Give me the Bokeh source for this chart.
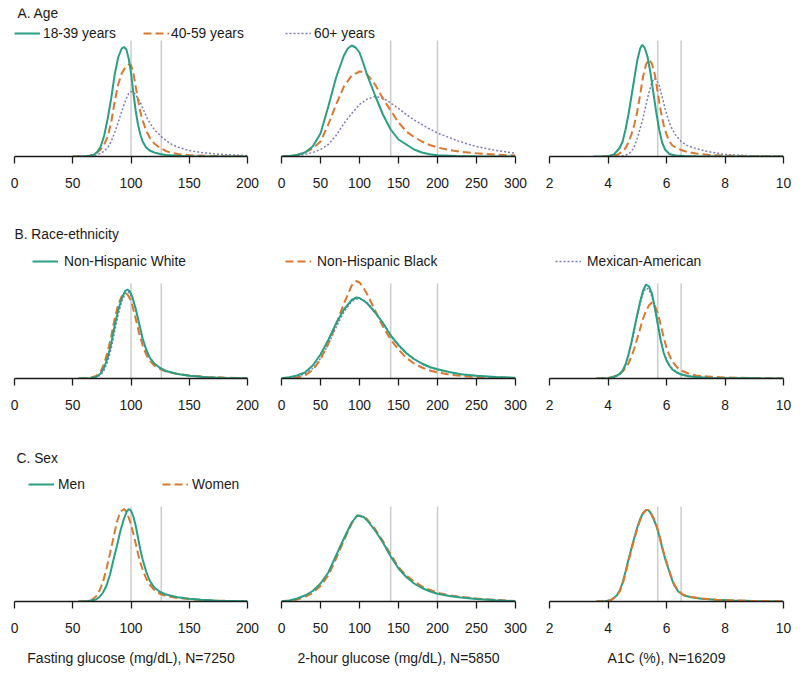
from bokeh.plotting import figure
from bokeh.layouts import column, row
from bokeh.models import Range1d, FixedTicker, Legend, LegendItem, Label
from bokeh.embed import file_html
from bokeh.resources import INLINE

# ---------------- data (relative density) ----------------
# Row A: Age
FG_1839_X = [50, 60, 65, 68, 71, 74, 77, 80, 83, 86, 89, 92, 94, 96, 98, 100, 102, 104, 106, 108, 110, 113, 116, 120, 125, 130, 140, 150, 170, 200]
FG_1839_Y = [0, 0.3, 0.8, 1.8, 4.5, 10, 21, 38, 58, 82, 99, 108, 109.5, 107, 98, 84, 64, 46, 32, 22, 15, 9, 6, 4, 2.5, 1.5, 0.7, 0.3, 0.1, 0]
FG_4059_X = [50, 60, 65, 70, 74, 77, 80, 83, 86, 89, 92, 95, 98, 100, 102, 104, 106, 108, 110, 113, 116, 120, 125, 130, 135, 140, 150, 165, 180, 200]
FG_4059_Y = [0, 0.3, 1, 3, 7, 12, 20, 34, 55, 72, 83, 89, 92, 91.5, 84, 70, 57, 45, 36, 26, 19, 13, 8.5, 5.5, 3.5, 2.5, 1.3, 0.6, 0.3, 0.1]
FG_60_X = [55, 65, 70, 74, 77, 80, 83, 86, 89, 92, 95, 98, 100, 102, 105, 108, 111, 114, 117, 120, 125, 130, 135, 140, 150, 160, 175, 200]
FG_60_Y = [0, 0.5, 1.5, 3, 5.5, 9, 15, 24, 34, 45, 55, 63, 65, 64.5, 60, 54, 46, 38, 32, 27, 21, 16, 12, 9.5, 6, 4, 2.3, 0.8]

H2_1839_X = [0, 10, 20, 30, 40, 50, 60, 70, 80, 85, 90, 95, 100, 105, 110, 120, 130, 140, 150, 160, 170, 180, 190, 200, 225, 250, 300]
H2_1839_Y = [0, 0.5, 1.5, 4, 10, 23, 50, 79, 101, 108, 111, 109, 104, 93, 81, 61, 42, 27, 17, 12, 7, 4, 2.2, 1.3, 0.5, 0.2, 0]
H2_4059_X = [0, 10, 20, 30, 40, 50, 60, 70, 80, 90, 100, 105, 110, 120, 130, 140, 150, 160, 170, 180, 190, 200, 215, 230, 250, 275, 300]
H2_4059_Y = [0, 0.4, 1.5, 4, 8, 15, 32, 52, 70, 81, 85, 84.5, 82, 72, 58, 46, 34, 25, 19.5, 15, 11.5, 9, 6.5, 4.6, 3.2, 1.8, 1]
H2_60_X = [0, 20, 30, 40, 50, 60, 70, 80, 90, 100, 110, 120, 130, 140, 150, 160, 170, 180, 190, 200, 215, 230, 250, 275, 300]
H2_60_Y = [0, 0.8, 2, 4, 7, 12, 21, 33, 43, 52, 57.5, 60, 58.5, 53.5, 48, 42, 36.5, 32, 27.5, 23.5, 19, 14.5, 10, 6, 3.3]

A1C_1839_X = [3.5, 4.0, 4.2, 4.4, 4.5, 4.6, 4.7, 4.8, 4.9, 5.0, 5.1, 5.17, 5.25, 5.35, 5.45, 5.55, 5.65, 5.75, 5.85, 5.95, 6.1, 6.3, 6.6, 7.0, 10.0]
A1C_1839_Y = [0, 0.3, 2, 8.5, 15, 27, 42, 60, 78, 96, 108, 111.7, 109, 100, 84, 64, 44, 27, 14, 7, 2.5, 1, 0.4, 0.2, 0]
A1C_4059_X = [3.8, 4.1, 4.3, 4.5, 4.6, 4.7, 4.8, 4.9, 5.0, 5.1, 5.2, 5.3, 5.4, 5.5, 5.6, 5.7, 5.8, 5.9, 6.0, 6.1, 6.2, 6.35, 6.5, 6.75, 7.0, 7.5, 8.0, 9.0, 10.0]
A1C_4059_Y = [0, 0.5, 1.5, 5, 8.5, 14, 22, 32, 45, 62, 80, 92, 97, 93, 82, 64, 46, 32, 22, 15, 11, 8.5, 6.5, 4.3, 3, 1.5, 0.8, 0.3, 0.1]
A1C_60_X = [4.2, 4.5, 4.7, 4.8, 4.9, 5.0, 5.1, 5.2, 5.3, 5.4, 5.5, 5.57, 5.65, 5.75, 5.85, 5.95, 6.05, 6.15, 6.3, 6.5, 6.7, 7.0, 7.4, 8.0, 9.0, 10.0]
A1C_60_Y = [0, 0.5, 2.5, 5, 10, 18, 28, 39, 52, 64, 74, 78, 77, 71, 60, 48, 38, 30, 22, 15, 11, 8, 5, 2, 0.6, 0.2]

# Row B: Race-ethnicity
FG_RACE_X = [55, 65, 70, 74, 77, 80, 83, 86, 89, 92, 95, 97, 99, 101, 104, 107, 110, 113, 116, 120, 125, 130, 140, 150, 165, 180, 200]
FG_NHW_Y = [0, 0.3, 1.5, 5, 11, 21, 35, 53, 68, 80, 87.5, 89, 87, 82, 70, 55, 40, 29, 21, 15, 10.5, 7.5, 4.5, 2.8, 1.2, 0.5, 0.2]
FG_NHB_Y = [0, 0.6, 2.5, 7, 15, 27, 42, 60, 74, 82, 85, 84, 80, 74, 60, 45, 33, 24, 18, 13, 9.5, 7, 4.5, 3, 1.6, 0.9, 0.4]
FG_MA_Y = [0, 0.2, 1, 3.5, 8.5, 17, 30, 47, 64, 77, 85, 87, 85.5, 80, 68, 53, 39, 28.5, 21, 15, 10.5, 7.5, 4.5, 2.8, 1.3, 0.6, 0.2]

H2_RACE_X = [0, 10, 20, 30, 40, 50, 60, 70, 80, 90, 96, 100, 105, 110, 120, 130, 140, 150, 160, 170, 180, 190, 200, 215, 230, 250, 275, 300]
H2_NHW_Y = [0.3, 1.2, 3, 6, 13, 24, 38.5, 55, 69, 78.5, 81, 80.5, 78, 75, 66, 55.5, 43, 33.5, 25.5, 19.5, 15, 11.5, 9.2, 6.5, 4.3, 2.7, 1.4, 0.7]
H2_NHB_Y = [0, 0.3, 1, 3, 8.5, 19, 35, 54, 75, 93, 97.5, 96, 91, 84, 68, 52, 39, 29, 20.5, 15, 11, 8, 6, 4, 2.6, 1.5, 0.8, 0.4]
H2_MA_Y = [0.2, 0.8, 2.2, 4.5, 10, 20, 34, 51, 66.5, 77, 79.5, 80, 78.5, 75.5, 67, 56, 43.5, 33, 25, 19, 14.5, 11, 8.8, 6.2, 4.2, 2.6, 1.4, 0.7]

A1C_RACE_X = [3.6, 4.0, 4.2, 4.4, 4.5, 4.6, 4.7, 4.8, 4.9, 5.0, 5.1, 5.2, 5.3, 5.4, 5.5, 5.6, 5.7, 5.8, 5.9, 6.0, 6.1, 6.2, 6.35, 6.5, 6.75, 7.0, 7.5, 8.0, 9.0, 10.0]
A1C_NHW_Y = [0, 0.3, 1.5, 4.5, 8, 14, 24, 36, 50, 64, 77, 88, 94, 92, 85, 71, 55, 38.5, 26, 18, 13, 9, 6, 4, 2.3, 1.4, 0.6, 0.35, 0.15, 0]
A1C_NHB_Y = [0, 0.5, 2, 4.5, 7, 10.5, 15, 22, 30, 40, 50, 60, 67.5, 73, 76, 73, 65.5, 54, 41.5, 31, 23, 17, 11.5, 8, 5, 3, 1.8, 1, 0.4, 0.1]
A1C_MA_Y = [0, 0.3, 1.2, 4, 7, 12.5, 22, 34, 48, 62, 75, 85, 90.5, 89, 82, 70, 54, 39, 27, 19, 13.5, 10, 6.5, 4.5, 2.7, 1.7, 0.7, 0.35, 0.15, 0]

# Row C: Sex
FG_SEX_X = [55, 62, 66, 70, 73, 76, 79, 82, 85, 88, 91, 94, 96, 98, 100, 102, 104, 106, 108, 110, 113, 116, 120, 125, 130, 140, 150, 160, 175, 200]
FG_MEN_Y = [0, 0.2, 1, 2, 4.5, 9, 16, 27, 42, 56, 71, 83, 89, 92.5, 91, 85, 76, 64, 52, 42, 30, 21, 14, 9.5, 7, 4.3, 2.7, 1.7, 0.8, 0.2]
FG_WOMEN_Y = [0, 0.5, 1.5, 5, 11, 20, 33, 48, 64, 80, 90, 92.5, 90, 84, 77, 68, 58, 48, 39, 32, 23, 17, 11.5, 7.5, 5.5, 3.5, 2.4, 1.6, 0.8, 0.3]

H2_SEX_X = [0, 10, 20, 30, 40, 50, 60, 70, 80, 90, 97, 105, 110, 120, 130, 140, 150, 160, 170, 180, 190, 200, 215, 230, 250, 275, 300]
H2_MEN_Y = [0.2, 1, 3, 6, 10.5, 18, 29, 46, 63, 79, 86, 84.5, 81, 71, 59, 45, 33, 24.5, 18, 13.5, 10.3, 7.7, 5.5, 4, 2.5, 1.2, 0.3]
H2_WOMEN_Y = [0, 0.5, 2, 4.5, 8.5, 15.5, 26, 43, 61, 78, 86, 85.5, 82, 72.5, 60.5, 47, 34.5, 26, 20, 15.2, 11.7, 8.8, 6.3, 4.6, 3, 1.5, 0.5]

A1C_SEX_X = [3.6, 3.9, 4.1, 4.3, 4.4, 4.5, 4.6, 4.7, 4.8, 4.9, 5.0, 5.1, 5.2, 5.3, 5.37, 5.45, 5.55, 5.65, 5.75, 5.85, 5.95, 6.05, 6.15, 6.25, 6.4, 6.6, 6.85, 7.2, 7.7, 8.3, 9.0, 10.0]
A1C_MEN_Y = [0, 0.2, 1.5, 6, 11, 19, 30, 42, 53, 64, 74, 82.5, 88.5, 91.5, 91.5, 89, 83, 76, 66, 54, 43, 34, 25, 17, 10, 6, 4.2, 2.8, 1.7, 0.9, 0.4, 0.1]
A1C_WOMEN_Y = [0, 0.2, 1.3, 5.5, 10, 17.5, 28, 40, 51.5, 62.5, 72.5, 81.5, 88, 91.3, 91.5, 89.5, 84, 77, 67, 55, 44, 35, 26, 18, 10.5, 6.3, 4.4, 3, 1.8, 1, 0.5, 0.2]

# reference cut-points, axes, texts
FG_REFS = [100, 126]
H2_REFS = [140, 200]
A1C_REFS = [5.7, 6.5]
FG_RANGE = (0, 200)
H2_RANGE = (0, 300)
A1C_RANGE = (2, 10)
FG_TICKS = [0, 50, 100, 150, 200]
H2_TICKS = [0, 50, 100, 150, 200, 250, 300]
A1C_TICKS = [2, 4, 6, 8, 10]
AXIS_TITLES = ["Fasting glucose (mg/dL), N=7250", "2-hour glucose (mg/dL), N=5850", "A1C (%), N=16209"]
ROW_TITLES = ["A. Age", "B. Race-ethnicity", "C. Sex"]
AGE_LABELS = ["18-39 years", "40-59 years", "60+ years"]
RACE_LABELS = ["Non-Hispanic White", "Non-Hispanic Black", "Mexican-American"]
SEX_LABELS = ["Men", "Women"]

# ---------------- styling / layout ----------------
FONT = "Liberation Sans"
FS = "13.8px"
FS_AXIS = "14px"
TXT = "#1a1a1a"
GREEN = "#2a9f83"
ORANGE = "#d9782f"
PURPLE = "#7f7bbb"
REFC = "#cccccc"

COL_W = [264, 268, 260]
COL_L = [14, 17, 17]
COL_R = [17, 17, 9]
ROW_TOP = [8, 0, 0]
ROW_FRAME = [148, 156, 156]
ROW_BOTTOM = [66, 67, 70]
REF_TOP = [116, 95, 95]

STYLE = {
    "green": dict(line_color=GREEN, line_width=2),
    "orange": dict(line_color=ORANGE, line_width=2, line_dash="8 4"),
    "purple": dict(line_color=PURPLE, line_width=1.5, line_dash="2 2"),
}


def panel(r, c, xr, ticks, refs, series, axis_label=None):
    p = figure(width=COL_W[c], height=ROW_TOP[r] + ROW_FRAME[r] + ROW_BOTTOM[r],
               x_range=Range1d(*xr), y_range=Range1d(0, ROW_FRAME[r]),
               output_backend="svg", toolbar_location=None, y_axis_location=None,
               min_border_left=COL_L[c], min_border_right=COL_R[c],
               min_border_top=ROW_TOP[r], min_border_bottom=ROW_BOTTOM[r])
    p.outline_line_color = None
    p.grid.visible = False
    ax = p.xaxis[0]
    ax.ticker = FixedTicker(ticks=ticks)
    ax.minor_tick_line_color = None
    ax.major_tick_in = 0
    ax.major_tick_out = 7
    ax.axis_line_width = 1.3
    ax.axis_line_color = TXT
    ax.major_tick_line_width = 1.3
    ax.major_tick_line_color = TXT
    ax.major_label_text_font = FONT
    ax.major_label_text_font_size = FS
    ax.major_label_text_color = TXT
    ax.major_label_standoff = 14
    if axis_label:
        ax.axis_label = axis_label
        ax.axis_label_text_font = FONT
        ax.axis_label_text_font_size = FS_AXIS
        ax.axis_label_text_font_style = "normal"
        ax.axis_label_text_color = TXT
        ax.axis_label_standoff = 14
    p.segment(x0=refs, y0=[0] * len(refs), x1=refs, y1=[REF_TOP[r]] * len(refs),
              line_color=REFC, line_width=1.5)
    rs = {}
    for key, xs, ys in series:
        rs[key] = p.line(xs, ys, **STYLE[key])
    return p, rs


def add_title(p, text, x, y):
    p.add_layout(Label(x=x, y=y, x_units="screen", y_units="screen", text=text,
                       text_font=FONT, text_font_size=FS, text_color=TXT,
                       text_baseline="middle"))


def add_legend(p, renderer, label, x, y, standoff):
    lg = Legend(items=[LegendItem(label=label, renderers=[renderer])], location=(x, y),
                orientation="horizontal", padding=0, margin=0, spacing=0,
                glyph_width=26, glyph_height=16, label_height=16, label_standoff=standoff,
                label_text_font=FONT, label_text_font_size=FS, label_text_color=TXT,
                background_fill_alpha=0, border_line_alpha=0)
    p.add_layout(lg, "center")


# Row A
a1, ra1 = panel(0, 0, FG_RANGE, FG_TICKS, FG_REFS,
                [("purple", FG_60_X, FG_60_Y), ("orange", FG_4059_X, FG_4059_Y), ("green", FG_1839_X, FG_1839_Y)])
a2, ra2 = panel(0, 1, H2_RANGE, H2_TICKS, H2_REFS,
                [("purple", H2_60_X, H2_60_Y), ("orange", H2_4059_X, H2_4059_Y), ("green", H2_1839_X, H2_1839_Y)])
a3, ra3 = panel(0, 2, A1C_RANGE, A1C_TICKS, A1C_REFS,
                [("purple", A1C_60_X, A1C_60_Y), ("orange", A1C_4059_X, A1C_4059_Y), ("green", A1C_1839_X, A1C_1839_Y)])
add_title(a1, ROW_TITLES[0], 3, 143)
add_legend(a1, ra1["green"], AGE_LABELS[0], 0, 115, 3)
add_legend(a1, ra1["orange"], AGE_LABELS[1], 129, 115, 2)
add_legend(a2, ra2["purple"], AGE_LABELS[2], 4, 115, 3)

# Row B
b1, rb1 = panel(1, 0, FG_RANGE, FG_TICKS, FG_REFS,
                [("purple", FG_RACE_X, FG_MA_Y), ("orange", FG_RACE_X, FG_NHB_Y), ("green", FG_RACE_X, FG_NHW_Y)])
b2, rb2 = panel(1, 1, H2_RANGE, H2_TICKS, H2_REFS,
                [("purple", H2_RACE_X, H2_MA_Y), ("orange", H2_RACE_X, H2_NHB_Y), ("green", H2_RACE_X, H2_NHW_Y)])
b3, rb3 = panel(1, 2, A1C_RANGE, A1C_TICKS, A1C_REFS,
                [("purple", A1C_RACE_X, A1C_MA_Y), ("orange", A1C_RACE_X, A1C_NHB_Y), ("green", A1C_RACE_X, A1C_NHW_Y)])
add_title(b1, ROW_TITLES[1], 0, 144)
add_legend(b1, rb1["green"], RACE_LABELS[0], 18, 109, 6)
add_legend(b2, rb2["orange"], RACE_LABELS[1], 4, 109, 6)
add_legend(b3, rb3["purple"], RACE_LABELS[2], 6, 109, 6)

# Row C
c1, rc1 = panel(2, 0, FG_RANGE, FG_TICKS, FG_REFS,
                [("orange", FG_SEX_X, FG_WOMEN_Y), ("green", FG_SEX_X, FG_MEN_Y)], AXIS_TITLES[0])
c2, rc2 = panel(2, 1, H2_RANGE, H2_TICKS, H2_REFS,
                [("orange", H2_SEX_X, H2_WOMEN_Y), ("green", H2_SEX_X, H2_MEN_Y)], AXIS_TITLES[1])
c3, rc3 = panel(2, 2, A1C_RANGE, A1C_TICKS, A1C_REFS,
                [("green", A1C_SEX_X, A1C_MEN_Y), ("orange", A1C_SEX_X, A1C_WOMEN_Y)], AXIS_TITLES[2])
add_title(c1, ROW_TITLES[2], 2, 143)
add_legend(c1, rc1["green"], SEX_LABELS[0], 14, 109, 4)
add_legend(c1, rc1["orange"], SEX_LABELS[1], 148, 109, 4)

layout = column(row(a1, a2, a3), row(b1, b2, b3), row(c1, c2, c3))

with open("out.html", "w") as f:
    f.write(file_html(layout, INLINE))
